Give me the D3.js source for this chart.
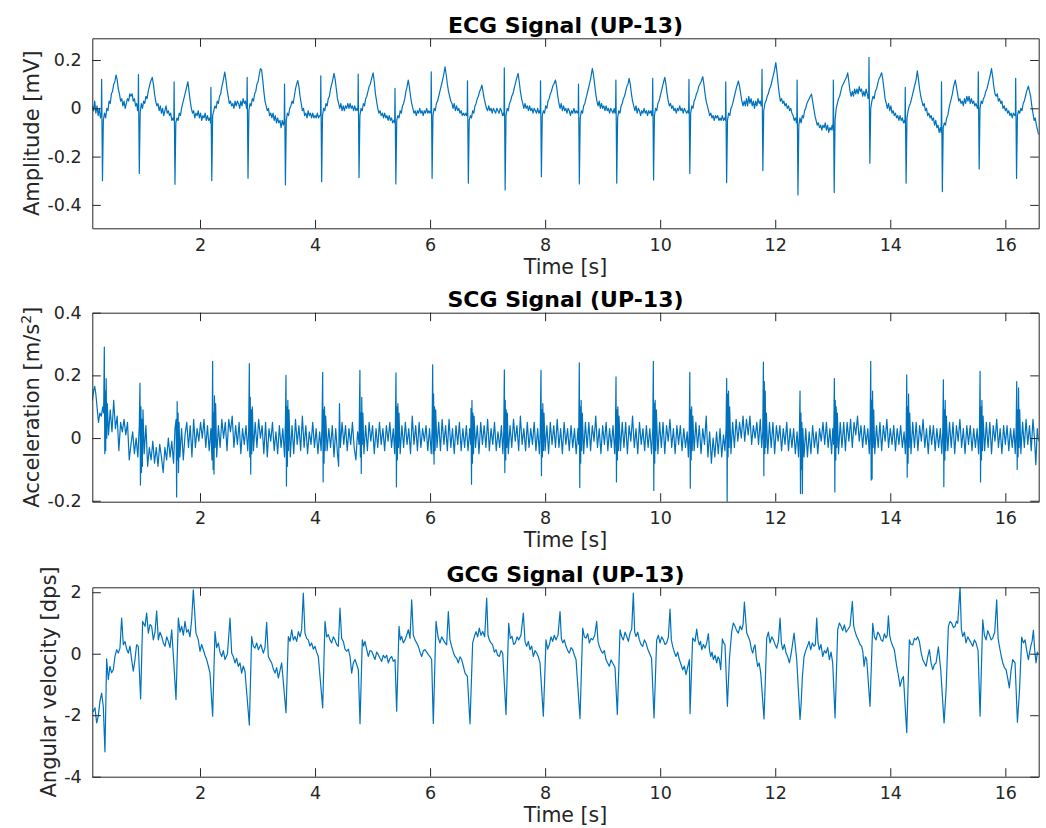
<!DOCTYPE html>
<html>
<head>
<meta charset="utf-8">
<script src="https://cdn.jsdelivr.net/npm/d3@7"></script>
<style>
  body { margin: 0; background: #fff; }
  svg text { font-family: "DejaVu Sans", sans-serif; fill: #262626; }
</style>
</head>
<body>
<div id="chart"></div>
<script>
// ---- data (time [s], value) ----

var ecgData = [
  [0.128,0.01],[0.15,-0.01],[0.17,0.03],[0.19,-0.02],[0.21,0.01],[0.23,-0.03],[0.25,0.0],[0.27,-0.04],
  [0.285,-0.02],[0.29,0.12],[0.305,-0.30],[0.32,-0.05],[0.34,-0.02],[0.36,-0.04],[0.38,0.0],[0.40,-0.01],[0.42,0.03],[0.44,0.02],[0.46,0.06],[0.48,0.07],[0.50,0.10],[0.52,0.11],[0.54,0.138],[0.56,0.12],[0.58,0.08],[0.60,0.06],[0.62,0.03],[0.64,0.04],[0.66,0.01],[0.68,0.03],[0.70,0.0],[0.72,0.02],[0.74,0.04],[0.76,0.03],[0.78,0.06],[0.80,0.05],[0.82,0.06],[0.84,0.03],[0.86,0.04],[0.88,0.01],[0.90,0.02],[0.915,-0.01],
  [0.925,0.0],[0.93,0.14],[0.945,-0.27],[0.96,-0.02],[0.98,0.02],[1.00,0.0],[1.02,0.03],[1.04,0.02],[1.06,0.05],[1.08,0.04],[1.10,0.07],[1.12,0.09],[1.14,0.11],[1.17,0.128],[1.19,0.10],[1.21,0.06],[1.23,0.03],[1.25,0.01],[1.27,0.02],[1.29,-0.01],[1.31,0.01],[1.33,-0.02],[1.35,0.0],[1.37,-0.03],[1.39,-0.01],[1.41,0.01],[1.43,-0.02],[1.45,-0.01],[1.47,-0.03],[1.49,-0.02],[1.51,-0.05],[1.53,-0.04],
  [1.545,-0.05],[1.55,0.11],[1.565,-0.315],[1.58,-0.06],[1.60,-0.04],[1.62,-0.05],[1.64,-0.02],[1.66,-0.03],[1.68,0.0],[1.70,0.02],[1.72,0.04],[1.74,0.06],[1.76,0.08],[1.79,0.11],[1.81,0.07],[1.83,0.03],[1.85,0.0],[1.87,-0.02],[1.89,-0.01],[1.91,-0.04],[1.93,-0.02],[1.95,-0.03],[1.97,-0.01],[1.99,-0.04],[2.01,-0.02],[2.03,-0.05],[2.05,-0.03],[2.07,-0.04],[2.09,-0.02],[2.11,-0.05],[2.13,-0.03],[2.15,-0.05],[2.17,-0.04],
  [2.185,-0.06],[2.19,0.087],[2.205,-0.30],[2.22,-0.03],[2.24,-0.01],[2.26,0.01],[2.28,0.0],[2.30,0.03],[2.32,0.02],[2.34,0.05],[2.36,0.06],[2.38,0.09],[2.40,0.11],[2.43,0.15],[2.45,0.12],[2.47,0.08],[2.49,0.05],[2.51,0.02],[2.53,0.03],[2.55,0.01],[2.57,0.02],[2.59,0.0],[2.61,0.03],[2.63,0.01],[2.65,0.03],[2.67,0.02],[2.69,0.0],[2.71,0.03],[2.73,0.01],[2.75,0.04],[2.77,0.02],[2.79,0.03],[2.81,0.0],
  [2.815,0.01],[2.82,0.128],[2.835,-0.29],[2.85,-0.01],[2.87,0.02],[2.89,0.01],[2.91,0.04],[2.93,0.03],[2.95,0.06],[2.97,0.07],[2.99,0.10],[3.01,0.11],[3.03,0.14],[3.05,0.164],[3.07,0.16],[3.09,0.12],[3.11,0.07],[3.13,0.03],[3.15,0.01],[3.17,-0.01],[3.19,0.0],[3.21,-0.03],[3.23,-0.02],[3.25,-0.04],[3.27,-0.02],[3.29,-0.05],[3.31,-0.03],[3.33,-0.06],[3.35,-0.04],[3.37,-0.06],[3.39,-0.05],[3.41,-0.08],[3.43,-0.05],[3.45,-0.07],
  [3.465,-0.05],[3.47,0.10],[3.485,-0.317],[3.50,-0.05],[3.52,-0.02],[3.54,-0.03],[3.56,0.0],[3.58,0.01],[3.60,0.03],[3.62,0.02],[3.64,0.05],[3.66,0.08],[3.68,0.10],[3.70,0.115],[3.72,0.09],[3.74,0.05],[3.76,0.02],[3.78,-0.01],[3.80,0.0],[3.82,-0.03],[3.84,-0.02],[3.86,-0.04],[3.88,-0.01],[3.90,-0.03],[3.92,-0.02],[3.94,-0.04],[3.96,-0.02],[3.98,-0.04],[4.00,-0.03],[4.02,-0.04],[4.04,-0.02],[4.06,-0.04],[4.08,-0.03],
  [4.095,-0.03],[4.10,0.134],[4.115,-0.304],[4.13,-0.03],[4.15,0.0],[4.17,-0.01],[4.19,0.02],[4.21,0.01],[4.23,0.04],[4.25,0.05],[4.27,0.08],[4.29,0.10],[4.31,0.12],[4.33,0.145],[4.35,0.12],[4.37,0.08],[4.39,0.04],[4.41,0.02],[4.43,0.0],[4.45,0.02],[4.47,-0.01],[4.49,0.01],[4.51,-0.01],[4.53,0.01],[4.55,0.0],[4.57,0.02],[4.59,0.0],[4.61,0.02],[4.63,0.0],[4.65,0.01],[4.67,-0.01],[4.69,0.01],[4.71,-0.01],[4.73,0.0],
  [4.745,-0.01],[4.75,0.142],[4.765,-0.287],[4.78,-0.03],[4.80,0.0],[4.82,-0.01],[4.84,0.02],[4.86,0.01],[4.88,0.04],[4.90,0.05],[4.92,0.07],[4.94,0.09],[4.96,0.10],[4.98,0.12],[5.01,0.147],[5.03,0.11],[5.05,0.06],[5.07,0.03],[5.09,0.0],[5.11,-0.02],[5.13,-0.01],[5.15,-0.03],[5.17,-0.02],[5.19,-0.04],[5.21,-0.02],[5.23,-0.04],[5.25,-0.03],[5.27,-0.05],[5.29,-0.03],[5.31,-0.05],[5.33,-0.04],[5.35,-0.06],[5.37,-0.05],
  [5.385,-0.06],[5.39,0.083],[5.405,-0.313],[5.42,-0.05],[5.44,-0.03],[5.46,-0.04],[5.48,-0.01],[5.50,-0.02],[5.52,0.01],[5.54,0.02],[5.56,0.04],[5.58,0.07],[5.60,0.09],[5.62,0.117],[5.64,0.09],[5.66,0.05],[5.68,0.02],[5.70,0.0],[5.72,-0.02],[5.74,-0.01],[5.76,-0.03],[5.78,-0.01],[5.80,-0.02],[5.82,0.0],[5.84,-0.02],[5.86,-0.01],[5.88,-0.03],[5.90,-0.01],[5.92,-0.02],[5.94,0.0],[5.96,-0.02],[5.98,-0.01],[6.00,-0.02],
  [6.015,-0.01],[6.02,0.151],[6.035,-0.29],[6.05,-0.03],[6.07,0.0],[6.09,-0.01],[6.11,0.02],[6.13,0.03],[6.15,0.05],[6.17,0.07],[6.19,0.09],[6.21,0.11],[6.23,0.13],[6.26,0.172],[6.28,0.14],[6.30,0.10],[6.32,0.07],[6.34,0.05],[6.36,0.03],[6.38,0.02],[6.40,0.0],[6.42,0.02],[6.44,-0.01],[6.46,0.01],[6.48,-0.01],[6.50,0.0],[6.52,-0.02],[6.54,-0.01],[6.56,-0.03],[6.58,-0.02],[6.60,-0.03],[6.62,-0.02],[6.635,-0.03],
  [6.645,-0.03],[6.65,0.114],[6.665,-0.31],[6.68,-0.05],[6.70,-0.03],[6.72,-0.04],[6.74,-0.01],[6.76,-0.02],[6.78,0.01],[6.80,0.02],[6.82,0.04],[6.84,0.05],[6.86,0.07],[6.88,0.08],[6.90,0.096],[6.92,0.07],[6.94,0.04],[6.96,0.02],[6.98,0.0],[7.00,-0.01],[7.02,0.01],[7.04,-0.01],[7.06,0.0],[7.08,-0.02],[7.10,0.0],[7.12,-0.01],[7.14,-0.02],[7.16,0.0],[7.18,-0.01],[7.20,-0.02],[7.22,0.0],[7.24,-0.01],[7.26,-0.03],[7.275,-0.02],
  [7.285,-0.03],[7.29,0.168],[7.305,-0.338],[7.32,-0.03],[7.34,0.0],[7.36,-0.01],[7.38,0.02],[7.40,0.03],[7.42,0.05],[7.44,0.06],[7.46,0.08],[7.48,0.10],[7.50,0.12],[7.53,0.145],[7.55,0.11],[7.57,0.07],[7.59,0.04],[7.61,0.02],[7.63,0.0],[7.65,0.02],[7.67,0.0],[7.69,0.01],[7.71,-0.01],[7.73,0.01],[7.75,-0.01],[7.77,0.0],[7.79,-0.02],[7.81,0.0],[7.83,-0.01],[7.85,-0.02],[7.87,0.0],[7.89,-0.02],[7.905,-0.01],
  [7.915,-0.02],[7.92,0.114],[7.935,-0.283],[7.95,-0.03],[7.97,-0.01],[7.99,-0.02],[8.01,0.01],[8.03,0.0],[8.05,0.03],[8.07,0.04],[8.09,0.06],[8.11,0.07],[8.13,0.09],[8.15,0.10],[8.18,0.117],[8.20,0.09],[8.22,0.05],[8.24,0.02],[8.26,0.0],[8.28,0.02],[8.30,-0.01],[8.32,0.01],[8.34,-0.01],[8.36,0.0],[8.38,-0.02],[8.40,0.0],[8.42,-0.01],[8.44,-0.03],[8.46,-0.01],[8.48,-0.02],[8.50,0.0],[8.52,-0.02],[8.54,-0.01],[8.56,-0.02],
  [8.575,-0.01],[8.58,0.10],[8.595,-0.313],[8.61,-0.04],[8.63,-0.01],[8.65,-0.02],[8.67,0.01],[8.69,0.02],[8.71,0.04],[8.73,0.06],[8.75,0.08],[8.77,0.10],[8.79,0.12],[8.82,0.165],[8.84,0.14],[8.86,0.10],[8.88,0.06],[8.90,0.03],[8.92,0.01],[8.94,0.03],[8.96,0.0],[8.98,0.02],[9.00,0.0],[9.02,0.01],[9.04,-0.01],[9.06,0.01],[9.08,-0.01],[9.10,0.0],[9.12,-0.02],[9.14,0.0],[9.16,-0.01],[9.18,-0.02],[9.20,0.0],[9.215,-0.02],
  [9.225,-0.01],[9.23,0.117],[9.245,-0.31],[9.26,-0.04],[9.28,-0.01],[9.30,-0.02],[9.32,0.01],[9.34,0.02],[9.36,0.04],[9.38,0.05],[9.40,0.07],[9.42,0.09],[9.44,0.10],[9.46,0.124],[9.48,0.10],[9.50,0.06],[9.52,0.03],[9.54,0.01],[9.56,-0.01],[9.58,0.01],[9.60,-0.02],[9.62,0.0],[9.64,-0.01],[9.66,-0.03],[9.68,-0.01],[9.70,-0.02],[9.72,0.0],[9.74,-0.02],[9.76,-0.01],[9.78,-0.03],[9.80,-0.01],[9.82,-0.02],[9.84,-0.01],[9.855,-0.03],
  [9.865,-0.02],[9.87,0.124],[9.885,-0.297],[9.90,-0.03],[9.92,0.0],[9.94,-0.01],[9.96,0.02],[9.98,0.03],[10.00,0.05],[10.02,0.07],[10.04,0.09],[10.06,0.11],[10.08,0.128],[10.10,0.10],[10.12,0.06],[10.14,0.03],[10.16,0.01],[10.18,0.02],[10.20,0.0],[10.22,0.01],[10.24,-0.01],[10.26,0.0],[10.28,-0.02],[10.30,0.0],[10.32,-0.01],[10.34,0.01],[10.36,-0.01],[10.38,0.0],[10.40,-0.02],[10.42,0.0],[10.44,-0.01],[10.46,-0.02],[10.48,-0.01],
  [10.495,-0.02],[10.50,0.12],[10.515,-0.27],[10.53,-0.02],[10.55,0.01],[10.57,0.0],[10.59,0.03],[10.61,0.04],[10.63,0.06],[10.65,0.07],[10.67,0.09],[10.69,0.10],[10.71,0.11],[10.74,0.131],[10.76,0.10],[10.78,0.06],[10.80,0.03],[10.82,0.01],[10.84,-0.01],[10.86,-0.03],[10.88,-0.02],[10.90,-0.04],[10.92,-0.03],[10.94,-0.05],[10.96,-0.03],[10.98,-0.04],[11.00,-0.03],[11.02,-0.05],[11.04,-0.04],[11.06,-0.05],[11.08,-0.03],[11.10,-0.05],[11.12,-0.04],
  [11.135,-0.05],[11.14,0.11],[11.155,-0.308],[11.17,-0.05],[11.19,-0.02],[11.21,-0.03],[11.23,0.0],[11.25,0.01],[11.27,0.03],[11.29,0.05],[11.31,0.07],[11.33,0.09],[11.36,0.113],[11.38,0.09],[11.40,0.06],[11.42,0.03],[11.44,0.01],[11.46,0.03],[11.48,0.01],[11.50,0.04],[11.52,0.01],[11.54,0.05],[11.56,0.02],[11.58,0.04],[11.60,0.01],[11.62,0.03],[11.64,0.0],[11.66,0.03],[11.68,0.01],[11.70,0.04],[11.72,0.02],[11.74,0.03],[11.755,0.01],
  [11.765,0.02],[11.77,0.161],[11.785,-0.258],[11.80,-0.01],[11.82,0.02],[11.84,0.03],[11.86,0.05],[11.88,0.06],[11.90,0.08],[11.92,0.09],[11.94,0.11],[11.96,0.13],[11.98,0.15],[12.01,0.189],[12.03,0.15],[12.05,0.10],[12.07,0.06],[12.09,0.03],[12.11,0.04],[12.13,0.02],[12.15,0.03],[12.17,0.01],[12.19,0.02],[12.21,0.0],[12.23,0.01],[12.25,-0.01],[12.27,0.0],[12.29,-0.02],[12.31,-0.03],[12.33,-0.05],[12.35,-0.04],[12.37,-0.06],
  [12.375,-0.05],[12.38,0.117],[12.395,-0.359],[12.41,-0.07],[12.43,-0.04],[12.45,-0.06],[12.47,-0.03],[12.49,-0.04],[12.51,-0.01],[12.53,0.0],[12.55,0.02],[12.57,0.03],[12.59,0.04],[12.61,0.05],[12.63,0.059],[12.65,0.03],[12.67,0.0],[12.69,-0.03],[12.71,-0.05],[12.73,-0.07],[12.75,-0.06],[12.77,-0.08],[12.79,-0.07],[12.81,-0.09],[12.83,-0.07],[12.85,-0.08],[12.87,-0.06],[12.89,-0.09],[12.91,-0.07],[12.93,-0.10],[12.95,-0.08],[12.97,-0.09],[12.99,-0.07],
  [13.005,-0.09],[13.01,0.117],[13.025,-0.349],[13.04,-0.05],[13.06,0.0],[13.08,0.02],[13.10,0.04],[13.12,0.05],[13.14,0.07],[13.16,0.09],[13.18,0.10],[13.20,0.11],[13.22,0.12],[13.24,0.13],[13.26,0.147],[13.28,0.11],[13.30,0.07],[13.32,0.05],[13.34,0.07],[13.36,0.05],[13.38,0.08],[13.40,0.06],[13.42,0.08],[13.44,0.06],[13.46,0.09],[13.48,0.07],[13.50,0.08],[13.52,0.05],[13.54,0.07],[13.56,0.05],[13.58,0.08],[13.60,0.06],[13.615,0.04],
  [13.625,0.05],[13.63,0.211],[13.645,-0.228],[13.66,0.0],[13.68,0.03],[13.70,0.05],[13.72,0.04],[13.74,0.07],[13.76,0.08],[13.78,0.10],[13.80,0.12],[13.82,0.13],[13.85,0.147],[13.87,0.12],[13.89,0.08],[13.91,0.04],[13.93,0.02],[13.95,0.0],[13.97,0.02],[13.99,-0.01],[14.01,0.01],[14.03,-0.02],[14.05,-0.01],[14.07,-0.03],[14.09,-0.02],[14.11,-0.04],[14.13,-0.03],[14.15,-0.05],[14.17,-0.03],[14.19,-0.05],[14.21,-0.04],[14.23,-0.06],[14.245,-0.05],
  [14.255,-0.06],[14.26,0.087],[14.275,-0.31],[14.29,-0.04],[14.31,-0.01],[14.33,0.01],[14.35,0.02],[14.37,0.04],[14.39,0.06],[14.41,0.08],[14.43,0.10],[14.45,0.12],[14.47,0.155],[14.49,0.12],[14.51,0.08],[14.53,0.05],[14.55,0.03],[14.57,0.01],[14.59,0.02],[14.61,-0.01],[14.63,0.0],[14.65,-0.03],[14.67,-0.02],[14.69,-0.04],[14.71,-0.03],[14.73,-0.05],[14.75,-0.04],[14.77,-0.07],[14.79,-0.05],[14.81,-0.08],[14.83,-0.07],[14.85,-0.10],[14.87,-0.08],
  [14.885,-0.10],[14.89,0.11],[14.905,-0.345],[14.92,-0.08],[14.94,-0.06],[14.96,-0.07],[14.98,-0.04],[15.00,-0.03],[15.02,0.0],[15.04,0.02],[15.06,0.04],[15.08,0.06],[15.10,0.09],[15.13,0.117],[15.15,0.09],[15.17,0.06],[15.19,0.03],[15.21,0.04],[15.23,0.02],[15.25,0.03],[15.27,0.01],[15.29,0.04],[15.31,0.02],[15.33,0.05],[15.35,0.03],[15.37,0.05],[15.39,0.02],[15.41,0.04],[15.43,0.02],[15.45,0.03],[15.47,0.01],[15.49,0.02],[15.515,0.0],
  [15.525,0.01],[15.53,0.151],[15.545,-0.251],[15.56,0.0],[15.58,0.03],[15.60,0.02],[15.62,0.04],[15.64,0.05],[15.66,0.07],[15.68,0.08],[15.70,0.10],[15.72,0.12],[15.74,0.14],[15.76,0.165],[15.78,0.13],[15.80,0.09],[15.82,0.06],[15.84,0.05],[15.86,0.06],[15.88,0.03],[15.90,0.04],[15.92,0.02],[15.94,0.03],[15.96,0.0],[15.98,0.01],[16.00,-0.01],[16.02,0.0],[16.04,-0.02],[16.06,-0.01],[16.08,-0.03],[16.10,-0.02],[16.12,-0.04],[16.14,-0.02],[16.165,-0.03],
  [16.175,-0.03],[16.18,0.124],[16.195,-0.29],[16.21,-0.03],[16.23,-0.01],[16.25,-0.02],[16.27,0.0],[16.29,-0.01],[16.31,0.02],[16.33,0.03],[16.35,0.05],[16.37,0.07],[16.40,0.092],[16.42,0.07],[16.44,0.05],[16.46,0.01],[16.48,-0.02],[16.50,-0.05],[16.52,-0.04],[16.54,-0.07],[16.56,-0.09],[16.58,-0.11]
];

var scgData = [
  [0.128,0.12],[0.15,0.15],[0.17,0.165],[0.19,0.14],[0.215,0.09],[0.235,0.05],[0.26,0.08],[0.285,0.07],[0.31,0.10],[0.325,0.08],
  [0.337,0.29],[0.345,-0.05],[0.353,0.15],[0.361,-0.04],[0.369,0.19],[0.379,0.0],[0.389,0.11],[0.41,0.01],[0.44,0.09],[0.47,0.02],[0.50,0.12],[0.53,0.03],[0.56,0.07],[0.59,-0.04],[0.62,0.05],[0.65,0.02],[0.68,0.06],[0.71,0.01],[0.74,0.05],[0.77,-0.07],[0.80,-0.02],[0.83,0.02],[0.86,-0.05],[0.89,0.0],[0.92,-0.06],[0.945,0.04],
  [0.957,0.175],[0.965,-0.15],[0.973,0.10],[0.981,-0.11],[0.989,0.06],[0.999,-0.09],[1.009,0.09],[1.03,-0.05],[1.06,0.04],[1.09,-0.09],[1.12,-0.03],[1.15,-0.07],[1.18,-0.01],[1.21,-0.08],[1.24,-0.03],[1.27,-0.09],[1.30,-0.02],[1.33,-0.06],[1.36,-0.11],[1.39,-0.03],[1.42,-0.07],[1.45,0.0],[1.48,-0.06],[1.51,-0.01],[1.54,-0.08],[1.565,0.03],
  [1.585,0.06],[1.594,-0.188],[1.603,0.116],[1.611,-0.07],[1.619,0.08],[1.627,-0.11],[1.637,0.05],[1.65,-0.06],[1.68,0.03],[1.71,-0.07],[1.74,0.01],[1.77,0.05],[1.80,-0.03],[1.83,0.04],[1.86,-0.06],[1.89,0.06],[1.92,-0.03],[1.95,0.03],[1.98,-0.01],[2.01,0.05],[2.04,0.0],[2.07,0.06],[2.10,-0.03],[2.13,0.04],[2.16,-0.04],[2.19,0.03],[2.208,-0.07],
  [2.22,0.245],[2.228,-0.10],[2.236,0.08],[2.244,-0.115],[2.252,0.135],[2.262,-0.03],[2.272,0.11],[2.29,-0.06],[2.32,0.04],[2.35,-0.03],[2.38,0.06],[2.41,0.0],[2.44,0.05],[2.47,-0.04],[2.50,0.06],[2.53,0.02],[2.56,0.07],[2.59,-0.03],[2.62,0.04],[2.65,-0.02],[2.68,0.05],[2.71,-0.05],[2.74,0.03],[2.77,-0.02],[2.80,0.04],[2.83,-0.04],[2.846,0.02],
  [2.858,0.238],[2.866,-0.06],[2.874,0.13],[2.882,-0.115],[2.89,0.09],[2.90,-0.05],[2.91,0.10],[2.93,-0.04],[2.96,0.05],[2.99,-0.03],[3.02,0.06],[3.05,0.0],[3.08,0.04],[3.11,-0.05],[3.14,0.05],[3.17,-0.06],[3.20,0.03],[3.23,-0.01],[3.26,0.05],[3.29,-0.04],[3.32,0.02],[3.35,-0.05],[3.38,0.04],[3.41,-0.03],[3.44,0.03],[3.47,-0.06],[3.485,0.05],
  [3.495,0.20],[3.503,-0.153],[3.511,0.10],[3.519,-0.09],[3.527,0.12],[3.537,-0.04],[3.547,0.09],[3.57,-0.06],[3.60,0.04],[3.63,-0.05],[3.66,0.06],[3.69,-0.02],[3.72,0.04],[3.75,-0.04],[3.78,0.07],[3.81,-0.03],[3.84,0.04],[3.87,-0.05],[3.90,0.02],[3.93,-0.02],[3.96,0.05],[3.99,-0.03],[4.02,0.03],[4.05,-0.05],[4.08,0.02],[4.105,-0.04],[4.12,0.03],
  [4.133,0.21],[4.141,-0.14],[4.149,0.09],[4.157,-0.08],[4.165,0.10],[4.175,-0.04],[4.185,0.07],[4.21,-0.04],[4.24,0.03],[4.27,-0.03],[4.30,0.04],[4.33,-0.06],[4.36,0.03],[4.39,-0.05],[4.41,-0.09],[4.425,0.11],[4.44,-0.03],[4.47,0.05],[4.50,-0.02],[4.53,0.04],[4.56,-0.04],[4.59,0.03],[4.62,-0.02],[4.65,0.05],[4.68,-0.03],[4.71,-0.07],[4.74,0.02],[4.765,-0.02],
  [4.78,0.216],[4.788,-0.06],[4.796,0.08],[4.804,-0.113],[4.812,0.13],[4.822,-0.02],[4.832,0.08],[4.85,-0.05],[4.88,0.04],[4.91,-0.04],[4.94,0.05],[4.97,-0.01],[5.00,0.04],[5.03,-0.05],[5.06,0.03],[5.09,-0.03],[5.12,0.05],[5.15,-0.02],[5.18,0.03],[5.21,-0.04],[5.24,0.04],[5.27,-0.01],[5.30,0.05],[5.33,-0.03],[5.36,0.03],[5.385,-0.05],[5.397,0.04],
  [5.407,0.208],[5.415,-0.156],[5.423,0.10],[5.431,-0.07],[5.44,0.11],[5.45,-0.03],[5.46,0.08],[5.48,-0.05],[5.51,0.04],[5.54,-0.03],[5.57,0.05],[5.60,-0.02],[5.63,0.03],[5.66,-0.05],[5.69,0.07],[5.72,-0.02],[5.75,0.04],[5.78,-0.04],[5.81,0.05],[5.84,-0.03],[5.87,0.03],[5.90,-0.01],[5.93,0.04],[5.96,-0.04],[5.99,0.03],[6.02,-0.05],[6.035,0.03],
  [6.045,0.234],[6.053,-0.05],[6.061,0.14],[6.069,-0.083],[6.077,0.10],[6.087,-0.04],[6.097,0.09],[6.12,-0.03],[6.15,0.05],[6.18,-0.04],[6.21,0.06],[6.24,-0.02],[6.27,0.04],[6.30,-0.04],[6.33,0.06],[6.36,-0.03],[6.39,0.03],[6.42,-0.05],[6.45,0.04],[6.48,-0.02],[6.51,0.05],[6.54,-0.04],[6.57,0.03],[6.60,-0.03],[6.63,0.04],[6.66,-0.04],[6.69,0.03],[6.705,-0.02],
  [6.712,0.095],[6.72,-0.147],[6.728,0.12],[6.736,-0.08],[6.745,0.08],[6.755,-0.05],[6.765,0.07],[6.79,-0.03],[6.82,0.04],[6.85,-0.05],[6.88,0.05],[6.91,-0.02],[6.94,0.04],[6.97,-0.03],[7.00,0.06],[7.03,-0.04],[7.06,0.03],[7.09,-0.02],[7.12,0.05],[7.15,-0.04],[7.18,0.02],[7.21,-0.03],[7.24,0.04],[7.265,-0.05],[7.28,0.02],
  [7.291,0.218],[7.299,-0.11],[7.307,0.12],[7.315,-0.07],[7.323,0.09],[7.333,-0.03],[7.343,0.08],[7.36,-0.05],[7.39,0.04],[7.42,-0.03],[7.45,0.06],[7.48,-0.01],[7.51,0.04],[7.54,-0.04],[7.57,0.07],[7.60,-0.02],[7.63,0.03],[7.66,-0.04],[7.69,0.05],[7.72,-0.03],[7.75,0.03],[7.78,-0.02],[7.81,0.05],[7.84,-0.04],[7.87,0.03],[7.90,-0.05],[7.915,0.02],
  [7.928,0.216],[7.936,-0.12],[7.944,0.09],[7.952,-0.06],[7.96,0.11],[7.97,-0.04],[7.98,0.08],[8.00,-0.04],[8.03,0.04],[8.06,-0.05],[8.09,0.05],[8.12,-0.02],[8.15,0.04],[8.18,-0.03],[8.21,0.06],[8.24,-0.03],[8.27,0.03],[8.30,-0.05],[8.33,0.05],[8.36,-0.02],[8.39,0.03],[8.42,-0.04],[8.45,0.04],[8.48,-0.03],[8.51,0.03],[8.54,-0.05],[8.57,0.03],[8.583,-0.02],
  [8.594,0.24],[8.602,-0.158],[8.61,0.10],[8.618,-0.08],[8.626,0.12],[8.636,-0.04],[8.646,0.08],[8.67,-0.05],[8.70,0.05],[8.73,-0.03],[8.76,0.05],[8.79,-0.04],[8.82,0.04],[8.85,-0.01],[8.88,0.07],[8.91,-0.03],[8.94,0.03],[8.97,-0.05],[9.00,0.04],[9.03,-0.02],[9.06,0.05],[9.09,-0.04],[9.12,0.03],[9.15,-0.03],[9.18,0.04],[9.21,-0.05],[9.222,0.02],
  [9.232,0.195],[9.24,-0.14],[9.248,0.09],[9.256,-0.07],[9.264,0.10],[9.274,-0.04],[9.284,0.07],[9.31,-0.04],[9.34,0.05],[9.37,-0.03],[9.40,0.05],[9.43,-0.05],[9.46,0.04],[9.49,-0.01],[9.52,0.07],[9.55,-0.03],[9.58,0.03],[9.61,-0.05],[9.64,0.05],[9.67,-0.02],[9.70,0.03],[9.73,-0.04],[9.76,0.04],[9.79,-0.03],[9.82,0.03],[9.85,-0.05],[9.871,0.03],
  [9.881,0.245],[9.889,-0.167],[9.897,0.11],[9.905,-0.08],[9.913,0.12],[9.923,-0.04],[9.933,0.09],[9.96,-0.05],[9.99,0.05],[10.02,-0.03],[10.05,0.05],[10.08,-0.05],[10.11,0.04],[10.14,-0.01],[10.17,0.06],[10.20,-0.03],[10.23,0.03],[10.26,-0.05],[10.29,0.04],[10.32,-0.02],[10.35,0.04],[10.38,-0.04],[10.41,0.03],[10.44,-0.03],[10.47,0.02],[10.49,-0.06],[10.505,0.02],
  [10.515,0.21],[10.523,-0.16],[10.531,0.09],[10.539,-0.07],[10.547,0.10],[10.557,-0.04],[10.567,0.07],[10.59,-0.04],[10.62,0.05],[10.65,-0.03],[10.68,0.04],[10.71,-0.05],[10.74,0.03],[10.77,-0.02],[10.80,0.07],[10.83,-0.06],[10.86,0.02],[10.89,-0.08],[10.92,0.0],[10.95,-0.06],[10.98,0.02],[11.01,-0.05],[11.04,0.03],[11.07,-0.06],[11.10,0.01],[11.125,-0.04],[11.145,0.03],
  [11.156,0.19],[11.164,-0.21],[11.172,0.14],[11.18,-0.06],[11.188,0.15],[11.198,-0.03],[11.208,0.10],[11.23,-0.05],[11.26,0.05],[11.29,-0.03],[11.32,0.06],[11.35,-0.01],[11.38,0.05],[11.41,0.0],[11.44,0.07],[11.47,-0.01],[11.50,0.06],[11.53,0.01],[11.56,0.07],[11.59,-0.02],[11.62,0.04],[11.65,0.0],[11.68,0.05],[11.71,-0.02],[11.74,0.06],[11.765,-0.03],[11.783,0.02],
  [11.794,0.242],[11.802,-0.12],[11.81,0.18],[11.818,-0.05],[11.826,0.15],[11.836,-0.03],[11.846,0.08],[11.87,-0.05],[11.90,0.05],[11.93,-0.03],[11.96,0.05],[11.99,-0.05],[12.02,0.04],[12.05,-0.01],[12.08,0.04],[12.11,-0.04],[12.14,0.03],[12.17,-0.02],[12.20,0.05],[12.23,-0.04],[12.26,0.03],[12.29,-0.03],[12.32,0.03],[12.35,-0.05],[12.38,0.02],[12.405,-0.06],[12.42,0.02],
  [12.431,0.15],[12.439,-0.177],[12.447,0.08],[12.455,-0.10],[12.463,0.05],[12.472,-0.177],[12.48,0.03],[12.50,-0.06],[12.53,0.03],[12.56,-0.06],[12.59,0.02],[12.62,-0.05],[12.65,0.04],[12.68,-0.03],[12.71,0.02],[12.74,-0.05],[12.77,0.03],[12.80,-0.01],[12.83,0.05],[12.86,-0.02],[12.89,0.05],[12.92,-0.03],[12.95,0.03],[12.98,-0.05],[13.00,0.03],[13.015,-0.02],
  [13.028,0.19],[13.036,-0.172],[13.044,0.12],[13.052,-0.07],[13.06,0.10],[13.07,-0.03],[13.08,0.08],[13.10,-0.05],[13.13,0.05],[13.16,-0.03],[13.19,0.05],[13.22,-0.04],[13.25,0.05],[13.28,-0.01],[13.31,0.06],[13.34,-0.03],[13.37,0.05],[13.40,0.01],[13.43,0.07],[13.46,-0.01],[13.49,0.04],[13.52,-0.03],[13.55,0.04],[13.58,-0.02],[13.61,0.03],[13.635,-0.05],[13.65,0.03],
  [13.66,0.245],[13.668,-0.134],[13.676,0.12],[13.684,-0.13],[13.692,0.15],[13.702,-0.03],[13.712,0.09],[13.73,-0.05],[13.76,0.04],[13.79,-0.03],[13.82,0.05],[13.85,-0.04],[13.88,0.04],[13.91,-0.01],[13.94,0.06],[13.97,-0.03],[14.00,0.03],[14.03,-0.02],[14.06,0.04],[14.09,-0.04],[14.12,0.03],[14.15,-0.02],[14.18,0.04],[14.21,-0.03],[14.24,0.02],[14.262,-0.05],[14.277,0.02],
  [14.286,0.202],[14.294,-0.125],[14.302,0.10],[14.31,-0.08],[14.318,0.14],[14.328,-0.03],[14.338,0.08],[14.36,-0.05],[14.39,0.05],[14.42,-0.03],[14.45,0.05],[14.48,-0.04],[14.51,0.04],[14.54,-0.01],[14.57,0.06],[14.60,-0.03],[14.63,0.03],[14.66,-0.05],[14.69,0.04],[14.72,-0.02],[14.75,0.04],[14.78,-0.04],[14.81,0.03],[14.84,-0.03],[14.87,0.03],[14.895,-0.05],[14.912,0.02],
  [14.923,0.186],[14.931,-0.155],[14.939,0.09],[14.947,-0.07],[14.955,0.12],[14.965,-0.04],[14.975,0.07],[15.00,-0.04],[15.03,0.05],[15.06,-0.03],[15.09,0.05],[15.12,-0.05],[15.15,0.04],[15.18,-0.01],[15.21,0.06],[15.24,-0.03],[15.27,0.03],[15.30,-0.05],[15.33,0.04],[15.36,-0.02],[15.39,0.04],[15.42,-0.04],[15.45,0.03],[15.48,-0.03],[15.51,0.03],[15.535,-0.05],[15.55,0.02],
  [15.561,0.213],[15.569,-0.14],[15.577,0.10],[15.585,-0.07],[15.593,0.12],[15.603,-0.04],[15.613,0.07],[15.64,-0.04],[15.67,0.05],[15.70,-0.03],[15.73,0.05],[15.76,-0.05],[15.79,0.04],[15.82,-0.01],[15.85,0.06],[15.88,-0.03],[15.91,0.03],[15.94,-0.05],[15.97,0.04],[16.00,-0.02],[16.03,0.04],[16.06,-0.04],[16.09,0.03],[16.12,-0.03],[16.15,0.03],[16.172,-0.05],[16.187,0.02],
  [16.198,0.18],[16.206,-0.10],[16.214,0.09],[16.222,-0.06],[16.23,0.16],[16.24,-0.03],[16.25,0.09],[16.27,-0.05],[16.30,0.05],[16.33,-0.03],[16.36,0.06],[16.39,-0.02],[16.42,0.04],[16.45,-0.04],[16.48,0.06],[16.51,-0.01],[16.53,-0.085],[16.555,0.03],[16.58,-0.01]
];

var gcgData = [
  [0.128,-1.9],[0.146,-1.87],[0.175,-1.76],[0.204,-2.25],[0.232,-2.03],[0.261,-1.55],[0.290,-1.28],[0.319,-1.71],[0.348,-3.19],[0.377,-0.17],[0.406,-0.84],[0.435,-0.41],[0.464,-0.62],[0.493,-0.52],[0.522,-0.09],[0.551,0.13],[0.580,0.02],[0.609,0.18],[0.638,1.16],[0.667,0.29],[0.696,0.40],[0.725,0.15],[0.754,0.02],[0.783,0.25],[0.812,-0.19],[0.841,-0.57],[0.870,-0.19],[0.898,0.29],[0.927,0.24],
  [0.968,-1.47],[1.003,1.05],[1.044,0.89],[1.073,1.32],[1.102,0.67],[1.131,0.95],[1.160,0.89],[1.189,0.45],[1.218,0.70],[1.247,1.39],[1.276,0.45],[1.305,0.70],[1.334,0.56],[1.363,0.35],[1.392,0.24],[1.421,0.55],[1.450,0.40],[1.479,0.20],[1.508,0.78],[1.536,-0.03],
  [1.583,-1.49],[1.624,1.16],[1.653,0.70],[1.682,0.89],[1.711,0.60],[1.739,1.05],[1.768,0.70],[1.797,0.78],[1.826,0.55],[1.855,1.10],[1.884,2.08],[1.930,0.67],[1.971,0.45],[2.000,0.08],[2.029,0.30],[2.058,0.13],[2.087,-0.05],[2.116,-0.19],[2.145,-0.40],[2.174,-0.63],
  [2.220,-2.03],[2.261,0.72],[2.290,0.20],[2.319,0.35],[2.348,0.05],[2.377,-0.09],[2.406,0.10],[2.435,-0.19],[2.478,0.0],[2.522,1.16],[2.551,0.02],[2.580,-0.10],[2.608,-0.30],[2.637,-0.15],[2.666,-0.41],[2.695,-0.30],[2.724,-0.63],[2.753,-0.40],[2.782,-0.57],
  [2.858,-2.32],[2.898,0.56],[2.927,0.25],[2.956,0.18],[2.985,0.35],[3.014,0.13],[3.058,0.30],[3.101,0.02],[3.130,0.20],[3.159,1.02],[3.188,-0.09],[3.217,-0.20],[3.246,-0.30],[3.275,-0.50],[3.304,-0.63],[3.333,-0.45],[3.362,-0.79],[3.391,-0.55],[3.420,-0.30],
  [3.495,-1.92],[3.536,0.56],[3.565,0.40],[3.594,0.78],[3.623,0.45],[3.652,0.56],[3.681,0.40],[3.710,0.72],[3.739,0.55],[3.767,0.78],[3.796,1.97],[3.825,0.67],[3.854,0.50],[3.883,0.45],[3.912,0.25],[3.941,0.35],[3.970,0.15],[3.999,0.24],[4.028,0.05],[4.057,-0.09],
  [4.133,-1.76],[4.173,1.05],[4.202,0.55],[4.231,0.62],[4.260,0.45],[4.289,0.35],[4.318,0.55],[4.347,0.45],[4.376,0.30],[4.405,0.24],[4.434,1.48],[4.463,0.50],[4.492,0.40],[4.521,0.15],[4.550,0.08],[4.579,0.15],[4.608,-0.09],[4.637,-0.63],[4.666,-0.30],[4.695,-0.19],[4.724,-0.35],[4.753,-0.52],
  [4.782,-2.28],[4.822,0.45],[4.845,0.25],[4.868,0.40],[4.897,0.15],[4.926,-0.09],[4.955,0.10],[4.984,0.08],[5.013,-0.05],[5.042,-0.19],[5.071,0.05],[5.100,-0.03],[5.129,-0.15],[5.158,-0.25],[5.187,-0.05],[5.216,-0.14],[5.245,-0.05],[5.274,-0.30],[5.303,-0.15],[5.332,-0.09],[5.361,-0.25],[5.390,-0.19],
  [5.419,-1.87],[5.460,0.89],[5.483,0.45],[5.506,0.56],[5.535,0.35],[5.564,0.45],[5.593,0.60],[5.622,0.78],[5.651,0.50],[5.680,1.75],[5.709,0.60],[5.738,0.45],[5.767,0.35],[5.796,0.24],[5.825,0.05],[5.854,-0.09],[5.883,0.10],[5.912,0.13],[5.941,0.05],[5.970,-0.03],[5.999,-0.10],[6.027,-0.19],
  [6.056,-2.27],[6.103,1.05],[6.138,0.55],[6.172,0.35],[6.201,0.55],[6.230,0.45],[6.259,0.35],[6.288,0.29],[6.317,1.37],[6.346,0.45],[6.375,0.24],[6.404,0.05],[6.433,-0.09],[6.462,-0.15],[6.491,-0.30],[6.520,-0.10],[6.549,-0.19],[6.578,-0.40],[6.607,-0.63],[6.648,-0.74],
  [6.694,-2.28],[6.740,0.35],[6.769,0.55],[6.798,0.72],[6.827,0.55],[6.856,0.83],[6.885,0.60],[6.914,0.72],[6.949,0.55],[6.984,1.81],[7.007,0.60],[7.030,0.45],[7.059,0.35],[7.088,0.29],[7.117,0.05],[7.146,0.13],[7.175,-0.05],[7.204,-0.09],[7.233,0.10],[7.262,0.02],
  [7.320,-1.98],[7.366,0.99],[7.395,0.50],[7.424,0.56],[7.453,0.30],[7.482,0.35],[7.511,0.55],[7.540,0.45],[7.580,0.60],[7.621,1.32],[7.650,0.40],[7.679,0.24],[7.708,0.40],[7.737,0.13],[7.766,0.25],[7.795,-0.09],[7.824,0.10],[7.853,0.02],[7.882,-0.10],[7.911,-0.30],
  [7.969,-2.03],[8.015,0.45],[8.044,0.15],[8.073,0.29],[8.102,0.55],[8.131,0.40],[8.160,0.60],[8.189,0.45],[8.224,0.60],[8.259,1.37],[8.282,0.50],[8.305,0.35],[8.334,0.45],[8.363,0.24],[8.392,0.10],[8.421,0.02],[8.450,0.20],[8.479,0.13],[8.508,-0.05],[8.537,-0.19],
  [8.606,-2.11],[8.653,0.83],[8.682,0.55],[8.711,0.51],[8.740,0.65],[8.769,0.35],[8.798,0.50],[8.827,0.45],[8.862,0.60],[8.896,1.05],[8.919,0.40],[8.942,0.24],[8.971,0.10],[9.000,0.02],[9.029,0.10],[9.058,-0.19],[9.087,-0.30],[9.116,-0.41],[9.145,-0.20],[9.174,-0.30],[9.215,-0.45],
  [9.255,-1.98],[9.302,0.78],[9.331,0.55],[9.360,0.45],[9.389,0.70],[9.418,0.56],[9.447,0.40],[9.476,0.67],[9.505,0.80],[9.533,1.97],[9.557,0.70],[9.580,0.56],[9.609,0.70],[9.638,0.45],[9.667,0.30],[9.696,0.24],[9.725,0.45],[9.754,0.35],[9.783,0.15],[9.812,0.02],[9.850,-0.15],
  [9.893,-2.09],[9.939,0.45],[9.968,0.60],[9.997,0.35],[10.026,0.55],[10.055,0.45],[10.084,0.30],[10.113,0.35],[10.142,0.55],[10.171,1.45],[10.194,0.45],[10.217,0.24],[10.246,0.05],[10.275,-0.09],[10.304,0.05],[10.333,-0.19],[10.362,-0.35],[10.391,-0.52],[10.420,-0.40],[10.449,-0.68],[10.507,-0.19],
  [10.519,-1.95],[10.565,0.51],[10.606,0.40],[10.635,0.80],[10.658,0.45],[10.681,0.29],[10.702,0.40],[10.722,0.13],[10.751,0.30],[10.780,0.18],[10.809,0.35],[10.838,0.65],[10.858,0.10],[10.878,-0.09],[10.901,0.05],[10.925,-0.19],[10.954,-0.05],[10.983,-0.30],[11.006,-0.10],[11.029,-0.19],[11.052,-0.52],[11.081,0.48],[11.104,0.35],[11.127,0.29],
  [11.168,-1.71],[11.203,-0.19],[11.243,0.72],[11.272,1.00],[11.301,0.89],[11.330,0.75],[11.359,0.67],[11.388,0.90],[11.417,0.78],[11.441,0.95],[11.464,1.68],[11.504,0.67],[11.533,0.55],[11.562,0.40],[11.585,0.15],[11.608,0.02],[11.629,0.20],[11.649,0.29],[11.672,-0.15],[11.695,-0.41],[11.720,-0.30],[11.748,-0.63],
  [11.805,-2.12],[11.852,0.51],[11.881,0.70],[11.910,0.35],[11.939,0.55],[11.968,0.45],[11.997,0.30],[12.026,0.18],[12.055,0.40],[12.084,1.16],[12.107,0.35],[12.130,0.13],[12.159,0.30],[12.188,0.02],[12.217,-0.10],[12.246,-0.30],[12.267,-0.10],[12.287,0.13],[12.327,0.67],[12.373,-0.19],
  [12.431,-2.14],[12.451,-1.60],[12.472,-0.74],[12.501,-0.09],[12.530,0.10],[12.559,0.24],[12.588,0.40],[12.617,0.13],[12.646,0.35],[12.675,0.24],[12.698,0.30],[12.721,1.16],[12.744,0.35],[12.767,0.13],[12.796,0.30],[12.825,-0.09],[12.854,0.10],[12.883,0.02],[12.912,0.20],[12.941,-0.19],[12.970,0.05],[12.999,-0.30],
  [13.040,-2.09],[13.086,0.78],[13.115,1.00],[13.144,0.89],[13.173,0.75],[13.202,0.94],[13.231,0.70],[13.260,0.78],[13.300,0.90],[13.341,1.70],[13.364,0.90],[13.388,0.72],[13.417,0.55],[13.445,0.45],[13.474,0.30],[13.503,0.24],[13.524,0.05],[13.544,-0.41],[13.567,-0.10],[13.590,-0.19],
  [13.648,-1.71],[13.695,0.99],[13.724,0.55],[13.753,0.45],[13.782,0.70],[13.811,0.62],[13.840,0.45],[13.869,0.40],[13.898,0.65],[13.926,0.51],[13.947,0.60],[13.967,1.23],[13.990,0.60],[14.013,0.40],[14.042,0.25],[14.071,0.13],[14.092,-0.15],[14.112,-0.41],[14.141,-0.70],[14.170,-1.06],[14.199,-0.85],[14.228,-0.74],
  [14.286,-2.57],[14.332,0.45],[14.361,0.30],[14.390,0.29],[14.419,0.50],[14.448,0.45],[14.477,0.55],[14.506,0.40],[14.535,0.05],[14.564,-0.19],[14.593,-0.30],[14.622,-0.41],[14.651,-0.10],[14.680,0.13],[14.709,-0.30],[14.738,-0.52],[14.767,-0.35],[14.796,-0.30],[14.836,0.22],[14.877,-0.52],
  [14.935,-2.25],[14.970,-1.17],[15.010,0.89],[15.039,1.05],[15.068,0.99],[15.097,0.85],[15.126,0.89],[15.149,1.05],[15.172,0.99],[15.213,2.16],[15.236,0.80],[15.259,0.56],[15.288,0.70],[15.317,0.35],[15.346,0.55],[15.375,0.45],[15.404,0.35],[15.433,0.24],[15.462,0.45],[15.491,0.35],[15.526,0.10],
  [15.561,-2.03],[15.607,1.10],[15.636,0.60],[15.665,0.45],[15.694,0.75],[15.723,0.62],[15.752,0.45],[15.781,0.51],[15.815,0.70],[15.850,1.75],[15.874,0.50],[15.897,0.24],[15.926,-0.05],[15.955,-0.30],[15.984,-0.45],[16.013,-0.52],[16.042,-0.80],[16.070,-1.11],[16.099,-0.55],[16.128,-0.19],[16.169,-0.30],
  [16.210,-2.23],[16.244,-1.28],[16.285,0.54],[16.314,0.35],[16.343,0.45],[16.372,0.10],[16.401,-0.19],[16.441,0.24],[16.465,0.40],[16.488,0.76],[16.511,0.10],[16.534,-0.30],[16.557,0.05],[16.580,-0.03]
];

var timeTicks = [2, 4, 6, 8, 10, 12, 14, 16];
var ecgTicks = [-0.4, -0.2, 0, 0.2];
var scgTicks = [-0.2, 0, 0.2, 0.4];
var gcgTicks = [-4, -2, 0, 2];

// ---- layout ----
var width = 1046, height = 828;
var plotLeft = 92.3, plotRight = 1038.7;
var tickLen = 8.5;

var panels = [
  { data: ecgData, ticks: ecgTicks, domain: [-0.497, 0.29], top: 38.3, bottom: 228.3,
    title: "ECG Signal (UP-13)", ylabel: ["Amplitude [mV]"], ylabelX: 38.5 },
  { data: scgData, ticks: scgTicks, domain: [-0.203, 0.4], top: 312.7, bottom: 501.7,
    title: "SCG Signal (UP-13)", ylabel: ["Acceleration [m/s", "2", "]"], ylabelX: 38.5 },
  { data: gcgData, ticks: gcgTicks, domain: [-4, 2.16], top: 587.3, bottom: 776.7,
    title: "GCG Signal (UP-13)", ylabel: ["Angular velocity [dps]"], ylabelX: 55.5 }
];

var svg = d3.select("#chart").append("svg")
  .attr("width", width)
  .attr("height", height);

var x = d3.scaleLinear()
  .domain([0.128, 16.58])
  .range([plotLeft, plotRight]);

panels.forEach(function(p, i) {

  var y = d3.scaleLinear()
    .domain(p.domain)
    .range([p.bottom, p.top]);

  var g = svg.append("g").attr("class", "panel");

  // clip the trace to the axes box
  svg.append("clipPath")
    .attr("id", "clip" + i)
    .append("rect")
    .attr("x", plotLeft)
    .attr("y", p.top)
    .attr("width", plotRight - plotLeft)
    .attr("height", p.bottom - p.top);

  var line = d3.line()
    .x(function(d) { return x(d[0]); })
    .y(function(d) { return y(d[1]); });

  g.append("path")
    .datum(p.data)
    .attr("clip-path", "url(#clip" + i + ")")
    .attr("fill", "none")
    .attr("stroke", "#0072BD")
    .attr("stroke-width", 1.2)
    .attr("stroke-linejoin", "round")
    .attr("d", line);

  // bottom axis with labels
  var xAxis = d3.axisBottom(x)
    .tickValues(timeTicks)
    .tickSizeInner(-tickLen)
    .tickSizeOuter(0)
    .tickPadding(10)
    .tickFormat(function(d) { return String(d); });

  var gx = g.append("g")
    .attr("transform", "translate(0," + p.bottom + ")")
    .call(xAxis);

  // top axis, ticks only
  var gxt = g.append("g")
    .attr("transform", "translate(0," + p.top + ")")
    .call(d3.axisTop(x).tickValues(timeTicks).tickSizeInner(-tickLen).tickSizeOuter(0).tickFormat(""));

  // left axis with labels
  var yAxis = d3.axisLeft(y)
    .tickValues(p.ticks)
    .tickSizeInner(-tickLen)
    .tickSizeOuter(0)
    .tickPadding(10.6)
    .tickFormat(function(d) { return String(d); });

  var gy = g.append("g")
    .attr("transform", "translate(" + plotLeft + ",0)")
    .call(yAxis);

  // right axis, ticks only
  var gyr = g.append("g")
    .attr("transform", "translate(" + plotRight + ",0)")
    .call(d3.axisRight(y).tickValues(p.ticks).tickSizeInner(-tickLen).tickSizeOuter(0).tickFormat(""));

  [gx, gxt, gy, gyr].forEach(function(a) {
    a.selectAll("path.domain").attr("stroke", "#262626").attr("stroke-width", 1);
    a.selectAll(".tick line").attr("stroke", "#262626").attr("stroke-width", 1);
    a.selectAll(".tick text")
      .attr("fill", "#262626")
      .style("font-family", "'DejaVu Sans', sans-serif")
      .style("font-size", "17.5px");
  });

  // title
  g.append("text")
    .attr("x", (plotLeft + plotRight) / 2)
    .attr("y", p.top - 5.6)
    .attr("text-anchor", "middle")
    .style("font-size", "22px")
    .style("font-weight", "bold")
    .style("fill", "#000")
    .text(p.title);

  // x label
  g.append("text")
    .attr("x", (plotLeft + plotRight) / 2)
    .attr("y", p.bottom + 45.5)
    .attr("text-anchor", "middle")
    .style("font-size", "20.5px")
    .text("Time [s]");

  // y label
  var yl = g.append("text")
    .attr("transform", "translate(" + p.ylabelX + "," + ((p.top + p.bottom) / 2) + ") rotate(-90)")
    .attr("text-anchor", "middle")
    .style("font-size", "21px");

  yl.append("tspan").text(p.ylabel[0]);
  if (p.ylabel.length > 1) {
    yl.append("tspan").attr("dy", -8).style("font-size", "14px").text(p.ylabel[1]);
    yl.append("tspan").attr("dy", 8).text(p.ylabel[2]);
  }
});
</script>
</body>
</html>
